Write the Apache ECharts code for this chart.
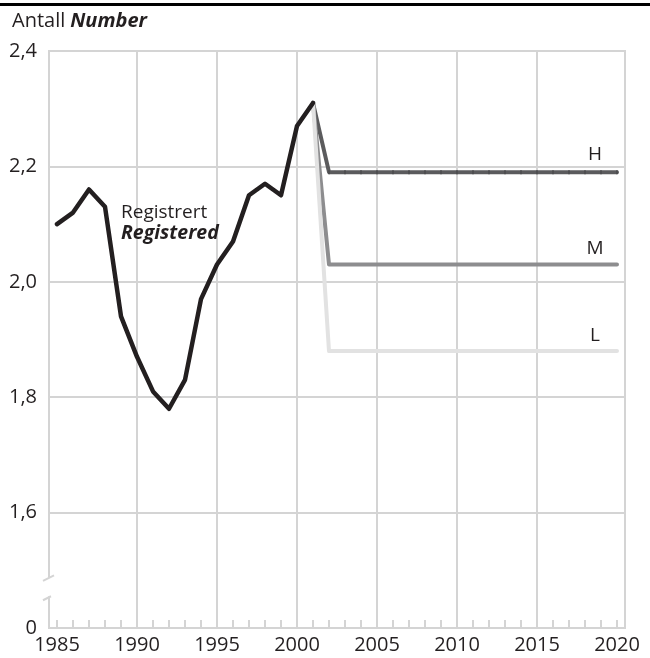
<!DOCTYPE html>
<html>
<head>
<meta charset="utf-8">
<script src="https://cdn.jsdelivr.net/npm/echarts@6/dist/echarts.min.js"></script>
<style>
  html, body { margin: 0; padding: 0; background: #fff; }
  #chart { width: 650px; height: 658px; }
</style>
</head>
<body>
<div id="chart"></div>
<script>
  // registrert 1985-2001
  var regYears = [1985, 1986, 1987, 1988, 1989, 1990, 1991, 1992, 1993, 1994, 1995, 1996, 1997, 1998, 1999, 2000, 2001];
  var regValues = [2.10, 2.12, 2.16, 2.13, 1.94, 1.87, 1.81, 1.78, 1.83, 1.97, 2.03, 2.07, 2.15, 2.17, 2.15, 2.27, 2.31];

  // framskrivinger H / M / L
  var projYears = [2001, 2002, 2003, 2004, 2005, 2006, 2007, 2008, 2009, 2010, 2011, 2012, 2013, 2014, 2015, 2016, 2017, 2018, 2019, 2020];
  var highValues = [2.31, 2.19, 2.19, 2.19, 2.19, 2.19, 2.19, 2.19, 2.19, 2.19, 2.19, 2.19, 2.19, 2.19, 2.19, 2.19, 2.19, 2.19, 2.19, 2.19];
  var midValues = [2.31, 2.03, 2.03, 2.03, 2.03, 2.03, 2.03, 2.03, 2.03, 2.03, 2.03, 2.03, 2.03, 2.03, 2.03, 2.03, 2.03, 2.03, 2.03, 2.03];
  var lowValues = [2.31, 1.88, 1.88, 1.88, 1.88, 1.88, 1.88, 1.88, 1.88, 1.88, 1.88, 1.88, 1.88, 1.88, 1.88, 1.88, 1.88, 1.88, 1.88, 1.88];

  // y-aksen: nederste tikk (brudd) vises som 0
  var yTicks = [1.4, 1.6, 1.8, 2.0, 2.2, 2.4];
  var yTickLabels = ['0', '1,6', '1,8', '2,0', '2,2', '2,4'];

  var FONT = 'Open Sans';
  var TEXT = '#231f20';
  var GRID = '#d4d4d4';

  function pairs(xs, ys) {
    return xs.map(function (x, i) { return [x, ys[i]]; });
  }

  function endLabel(name, count) {
    return {
      show: true,
      position: 'top',
      distance: 6,
      offset: [-22, 0],
      color: TEXT,
      fontFamily: FONT,
      fontWeight: 'normal',
      fontSize: 19,
      formatter: function (p) { return p.dataIndex === count - 1 ? name : ''; }
    };
  }

  var chart = echarts.init(document.getElementById('chart'));

  var option = {
    animation: false,
    backgroundColor: '#fff',
    title: {
      left: 7,
      top: 6,
      text: '{a|Antall} {b|Number}',
      textStyle: {
        fontWeight: 'normal',
        rich: {
          a: { fontFamily: FONT, fontSize: 20, color: TEXT, fontWeight: 'normal' },
          b: { fontFamily: FONT, fontSize: 20, color: TEXT, fontWeight: 'bold', fontStyle: 'italic' }
        }
      }
    },
    grid: [
      // ytre ramme og horisontale linjer
      { left: 49, right: 25, top: 51, bottom: 30, show: true, borderColor: GRID, borderWidth: 2 },
      // dataområdet 1985-2020
      { left: 57, right: 33, top: 51, bottom: 30 }
    ],
    xAxis: [
      { gridIndex: 0, type: 'value', min: 0, max: 1, show: false },
      {
        gridIndex: 1,
        type: 'value',
        min: 1985,
        max: 2020,
        interval: 5,
        axisLine: { show: false },
        axisTick: { show: true, inside: true, length: 8, lineStyle: { color: GRID, width: 2 } },
        minorTick: { show: true, splitNumber: 5, length: 8, lineStyle: { color: GRID, width: 2 } },
        splitLine: { show: true, showMinLine: false, showMaxLine: false, lineStyle: { color: GRID, width: 2 } },
        axisLabel: {
          color: TEXT, fontFamily: FONT, fontSize: 20, margin: 7,
          formatter: function (v) { return String(v); }
        }
      }
    ],
    yAxis: [
      {
        gridIndex: 0,
        type: 'value',
        min: 1.4,
        max: 2.4,
        interval: 0.2,
        axisLine: { show: false },
        axisTick: { show: false },
        splitLine: { show: true, lineStyle: { color: GRID, width: 2 } },
        axisLabel: {
          color: TEXT,
          fontFamily: FONT,
          fontSize: 20,
          margin: 12,
          formatter: function (v) {
            for (var i = 0; i < yTicks.length; i++) {
              if (Math.abs(yTicks[i] - v) < 1e-6) return yTickLabels[i];
            }
            return '';
          }
        }
      },
      { gridIndex: 1, type: 'value', min: 1.4, max: 2.4, show: false }
    ],
    series: [
      {
        name: 'H',
        type: 'line',
        xAxisIndex: 1,
        yAxisIndex: 1,
        data: pairs(projYears, highValues),
        showSymbol: true,
        symbol: 'rect',
        symbolSize: [1.5, 4],
        itemStyle: { color: '#4a4a4c' },
        lineStyle: { color: '#5b5b5d', width: 4, cap: 'round', join: 'round' },
        label: endLabel('H', projYears.length),
        z: 2
      },
      {
        name: 'M',
        type: 'line',
        xAxisIndex: 1,
        yAxisIndex: 1,
        data: pairs(projYears, midValues),
        showSymbol: true,
        symbol: 'circle',
        symbolSize: 0,
        lineStyle: { color: '#8d8d8f', width: 4, cap: 'round', join: 'round' },
        label: endLabel('M', projYears.length),
        z: 3
      },
      {
        name: 'L',
        type: 'line',
        xAxisIndex: 1,
        yAxisIndex: 1,
        data: pairs(projYears, lowValues),
        showSymbol: true,
        symbol: 'circle',
        symbolSize: 0,
        lineStyle: { color: '#e2e2e2', width: 4, cap: 'round', join: 'round' },
        label: endLabel('L', projYears.length),
        z: 4
      },
      {
        name: 'Registrert',
        type: 'line',
        xAxisIndex: 1,
        yAxisIndex: 1,
        data: pairs(regYears, regValues),
        showSymbol: true,
        symbol: 'circle',
        symbolSize: 0,
        lineStyle: { color: TEXT, width: 4.5, cap: 'round', join: 'round' },
        label: {
          show: true,
          position: 'right',
          distance: 16,
          offset: [0, 16],
          fontFamily: FONT,
          formatter: function (p) { return p.dataIndex === 3 ? '{a|Registrert}\n{b|Registered}' : ''; },
          rich: {
            a: { fontFamily: FONT, fontSize: 19, color: TEXT, lineHeight: 21, fontWeight: 'normal' },
            b: { fontFamily: FONT, fontSize: 19.5, color: TEXT, lineHeight: 21, fontWeight: 'bold', fontStyle: 'italic' }
          }
        },
        z: 5
      }
    ]
  };

  chart.setOption(option);

  // strek øverst og aksebrudd på venstre kant
  var gapTop = chart.convertToPixel({ xAxisIndex: 0, yAxisIndex: 0 }, [0, 1.487]);
  var gapBot = chart.convertToPixel({ xAxisIndex: 0, yAxisIndex: 0 }, [0, 1.455]);
  var ax = gapTop[0];
  chart.setOption({
    graphic: [
      { type: 'line', z: 100, shape: { x1: 0, y1: 4.5, x2: 650, y2: 4.5 }, style: { stroke: '#000', lineWidth: 3 } },
      { type: 'rect', z: 100, shape: { x: ax - 3, y: gapTop[1], width: 6, height: gapBot[1] - gapTop[1] }, style: { fill: '#fff' } },
      { type: 'line', z: 101, shape: { x1: ax - 6, y1: gapTop[1] + 3, x2: ax + 5, y2: gapTop[1] - 2.5 }, style: { stroke: GRID, lineWidth: 2 } },
      { type: 'line', z: 101, shape: { x1: ax - 6, y1: gapBot[1] + 4, x2: ax + 2, y2: gapBot[1] } , style: { stroke: GRID, lineWidth: 2 } }
    ]
  });
</script>
</body>
</html>
